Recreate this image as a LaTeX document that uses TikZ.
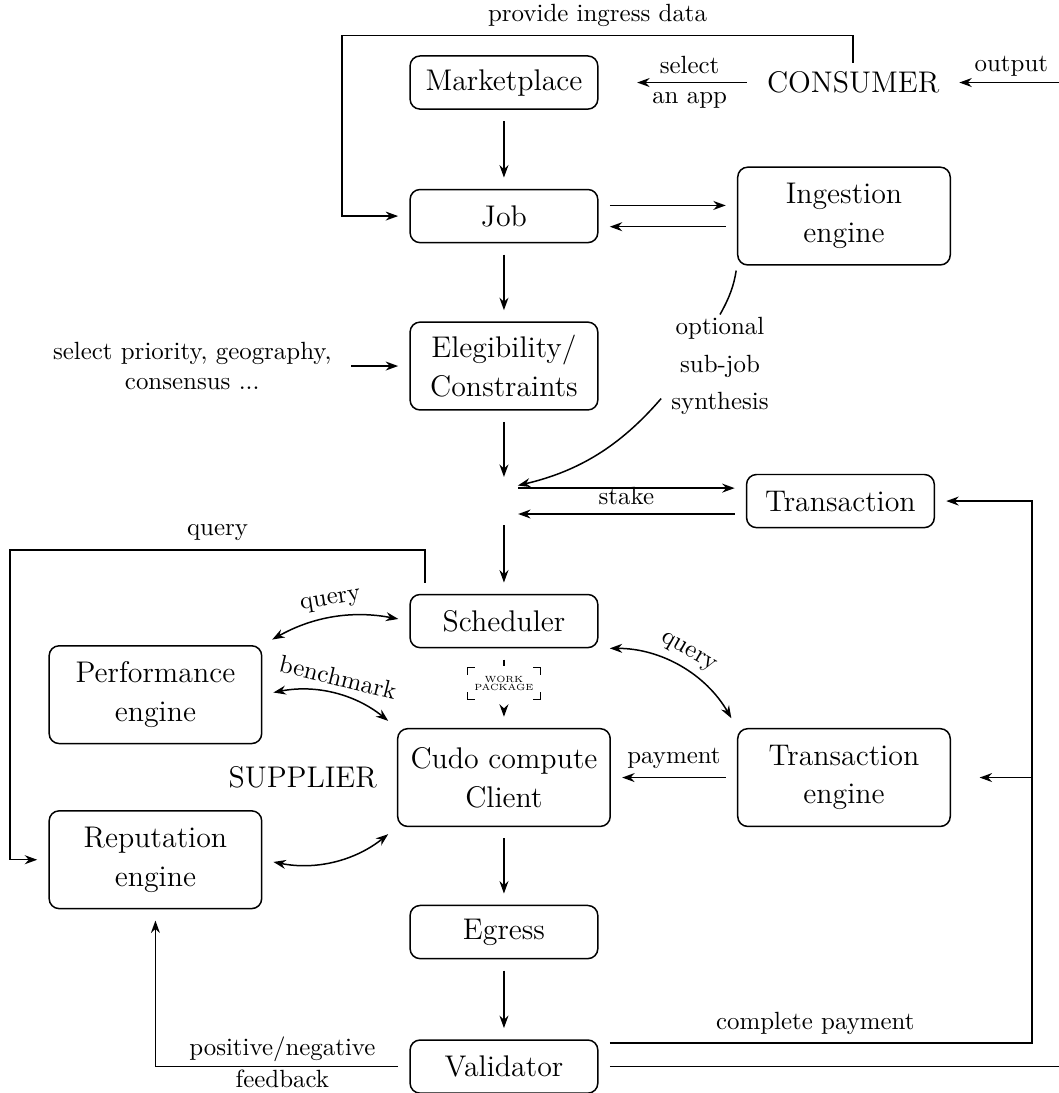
\documentclass[tikz,border=0pt]{standalone}
\usepackage{tikz}
\usetikzlibrary{arrows.meta}

\begin{document}
\begin{tikzpicture}[>={Stealth[length=5pt,width=3.6pt]}]
  \tikzstyle{stage}=[rectangle, rounded corners=4pt, semithick, draw=black, minimum width=2.65cm, minimum height=0.75cm, align=center, font=\fontsize{12}{15.5}\selectfont]
  \tikzstyle{bigstage}=[stage, minimum width=3cm, minimum height=1.38cm]
  \tikzstyle{hub}=[inner sep=0pt, minimum width=2pt, minimum height=10pt]
  \tikzstyle{link}=[semithick, shorten >=4.5pt, shorten <=4.5pt]
  \useasboundingbox (-7.114,-14.264) rectangle (7.834,1.165);
  % main column
  \node [stage] (mkt) {Marketplace};
  \node [stage] (job) [node distance=1.885cm, below of=mkt] {Job};
  \node [stage, minimum height=1.24cm] (elig) [node distance=2.117cm, below of=job] {Elegibility/\\Constraints};
  \node [hub] (junc) [node distance=1.906cm, below of=elig] {};
  \node [stage] (sched) [node distance=1.694cm, below of=junc] {Scheduler};
  \node [bigstage] (cudo) [node distance=2.209cm, below of=sched] {Cudo compute\\Client};
  \node [stage] (egress) [node distance=2.181cm, below of=cudo] {Egress};
  \node [stage] (val) [node distance=1.899cm, below of=egress] {Validator};
  % right side
  \node [font=\large] (cons) [node distance=4.93cm, right of=mkt] {CONSUMER};
  \node [bigstage] (ingest) [node distance=4.8cm, right of=job] {Ingestion\\engine};
  \node [stage] (trans) [node distance=4.75cm, right of=junc] {Transaction};
  \node [bigstage] (txeng) [node distance=4.8cm, right of=cudo] {Transaction\\engine};
  \node [align=center, inner sep=1pt] (synth) [node distance=3.05cm, right of=elig] {optional\\[3pt]sub-job\\[3pt]synthesis};
  % left side
  \node [align=center] (prio) [node distance=4.4cm, left of=elig] {select priority, geography,\\consensus ...};
  \node [bigstage] (perf) [node distance=4.92cm, left of=cudo, yshift=1.17cm] {Performance\\engine};
  \node [bigstage] (rep) [node distance=4.92cm, left of=cudo, yshift=-1.16cm] {Reputation\\engine};
  \node [font=\large] (supp) [node distance=2.84cm, left of=cudo] {SUPPLIER};
  \node [font=\fontsize{3.6}{3}\selectfont, align=center, inner xsep=2.5pt, inner ysep=3.5pt] (wp) [node distance=0.88cm, below of=sched] {WORK\\PACKAGE};
  \foreach \c/\sx/\sy in {north west/3pt/-3pt, north east/-3pt/-3pt, south west/3pt/3pt, south east/-3pt/3pt}
    \draw ([shift={(0,\sy)}]wp.\c) |- ([shift={(\sx,0)}]wp.\c);
  % corner points
  \path (job.west |- cons.north) ++(-0.95cm,0.39cm) coordinate (ptop);
  \path (rep.west |- sched.north) ++(-0.54cm,0.62cm) coordinate (qtop);
  \path (trans.east) ++(1.37cm,0) coordinate (rail);
  \path (rail |- cons.east) ++(0.6cm,0) coordinate (outr);

  \draw[link,->] (mkt) -- (job);
  \draw[link,->] (job) -- (elig);
  \draw[link,->] (elig) -- (junc);
  \draw[link,->] (junc) -- (sched);
  \draw[link, shorten >=0.5pt] (sched) -- (wp);
  \draw[link,->] (wp) -- (cudo);
  \draw[link,->] (cudo) -- (egress);
  \draw[link,->] (egress) -- (val);

  \draw[link,<-, shorten <=15.5pt] (mkt) -- node[pos=0.57, align=center] {select\\an app} (cons);
  \draw[link,->, shorten <=0pt] (cons.north) |- node[pos=0.75, above] {provide ingress data} (ptop) |- (job.west);
  \draw[link,->] ([yshift=0.15cm]job.east) -- ([yshift=0.15cm]job.east -| ingest.west);
  \draw[link,<-] ([yshift=-0.15cm]job.east) -- ([yshift=-0.15cm]job.east -| ingest.west);
  \draw[link,->] (prio) -- (elig);
  \draw[link, shorten <=2pt, shorten >=0pt] (ingest.south west) to[bend left=10] (synth.north);
  \draw[link,->] (synth.205) to[bend left=18] (junc.north east);
  \draw[link,->] (junc.north east) -- (junc.north east -| trans.west);
  \draw[link,<-] (junc.south east) -- node[above] {stake} (junc.south east -| trans.west);

  \draw[link,->] ([xshift=-1.115cm]sched.north) |- node[pos=0.75, above] {query} (qtop) |- (rep.west);
  \draw[link,<->] (perf.north east) to[bend left=20] node[above, sloped] {query} (sched.west);
  \draw[link,<->] (perf.east) to[bend left=25] node[above, sloped] {benchmark} (cudo.north west);
  \draw[link,<->] (rep.east) to[bend right=25] (cudo.south west);
  \draw[link,<->] (sched.south east) to[bend left=30] node[above, sloped] {query} (txeng.north west);
  \draw[link,->] (txeng) -- node[above] {payment} (cudo);

  \draw[link,->] (val.west) -| node[pos=0.25, above, inner sep=1.5pt] {positive/negative} node[pos=0.25, below, inner sep=1pt] {feedback} (rep.south);
  \draw[link,->] ([yshift=0.33cm]val.east) -| node[pos=0.25, above] {complete payment} (rail) -- (trans.east);
  \draw[link,->, shorten <=0pt, shorten >=11.5pt] (rail |- txeng.east) -- (txeng.east);
  \draw[link,->] (val.east) -| (outr) -- node[above, inner sep=2pt] {output} (cons.east);
\end{tikzpicture}
\end{document}
